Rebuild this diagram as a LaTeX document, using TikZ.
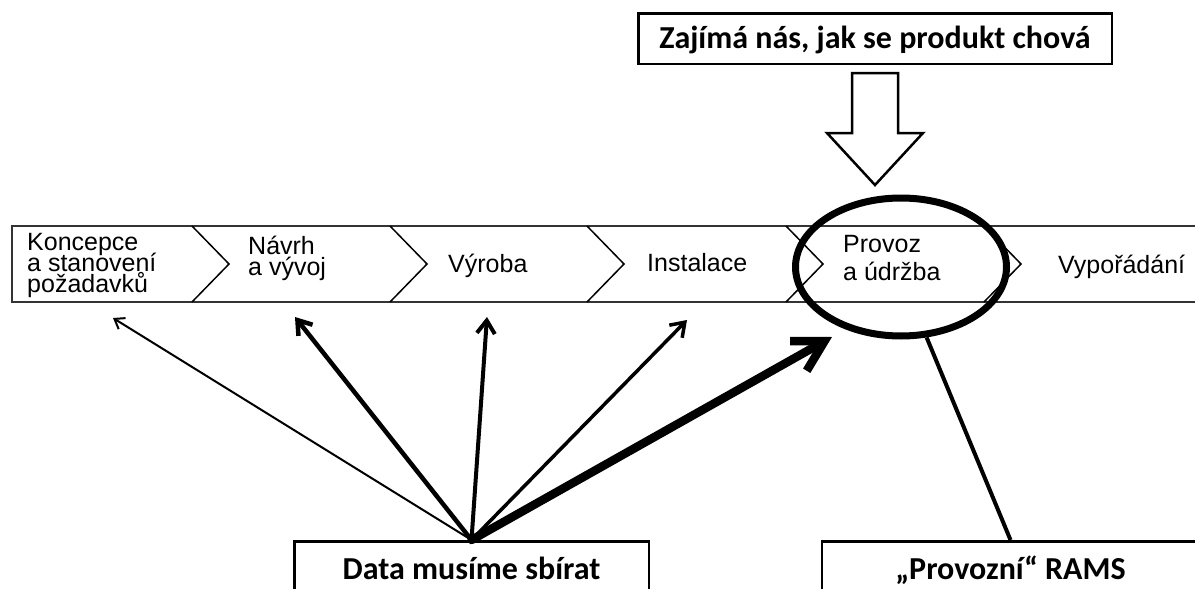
\documentclass[tikz,border=0pt]{standalone}
\usepackage{fontspec}
\newfontfamily\stagefont{Liberation Sans}
\newfontfamily\notefont{Carlito}
\usetikzlibrary{shapes.geometric,arrows.meta,positioning,calc}
\setlength{\lineskiplimit}{-20pt}

\tikzset{
  stage/.style={inner sep=0pt, align=left,
    font=\stagefont\fontsize{25}{21}\selectfont},
  chev/.style={line width=1.5pt, line join=miter},
  note/.style={draw, line width=2.5pt, inner sep=0pt,
    text height=20.6pt, text depth=0pt,
    font=\notefont\bfseries\fontsize{32}{36}\selectfont},
  feed/.style={line cap=round, line join=round},
  hollow/.style={line width=2.5pt, line join=miter},
}

\begin{document}
\begin{tikzpicture}[x=1pt, y=-1pt]
  \useasboundingbox (0,0) rectangle (1195,589);

  % proces
  \draw[line width=2pt, draw=black!80] (12,226) rectangle (1200,302);
  \foreach \x in {192,390,587,786,984}
    \draw[chev] (\x,226) -- (\x+37,264) -- (\x,302);

  % etapy
  \node[stage, anchor=west] (concept) at (27,265.5) {Koncepce\\a stanovení\\požadavků};
  \node[stage, anchor=west] (design) at (248,258) {Návrh\\a vývoj};
  \node[stage, anchor=base west] (make) at (448,272) {Výroba};
  \node[stage, anchor=base west] (install) at (647,271) {Instalace};
  \node[stage, anchor=west] (operate) at (843,258) {Provoz\\[7pt]a údržba};
  \node[stage, anchor=base west] (dispose) at (1058,273) {Vypořádání};

  % provoz zvyrazneni
  \node[draw, ellipse, line width=7pt, minimum width=211pt, minimum height=138pt,
    inner sep=0pt] (focus) at (901,267) {};

  % popisky
  \node[note, minimum width=473.5pt, minimum height=50.5pt] (care) at (875,38.5)
    {Zajímá nás, jak se produkt chová};
  \node[note, minimum width=354.5pt, minimum height=56.5pt] (collect) at (471.5,569.5)
    {Data musíme sbírat};
  \node[note, minimum width=377pt, minimum height=56.5pt] (rams) at (1010.5,569.5)
    {„Provozní“ RAMS};

  % dutá šipka
  \draw[hollow] ($(care.south)+(-23,8)$) -- ++(46,0) -- ++(0,60) -- ++(25,0)
    -- ++(-48,52) -- ++(-48,-52) -- ++(25,0) -- cycle;

  % sběr dat
  \coordinate (t1) at (113,318);
  \coordinate (t2) at (295,317);
  \coordinate (t3) at (487,317);
  \coordinate (t4) at (687,320);
  \coordinate (t5) at (832,337);
  \draw[feed, line width=2pt, -{Straight Barb[length=9pt,width=13pt]}] (collect.north) -- (t1);
  \draw[feed, line width=4.5pt, -{Straight Barb[length=13pt,width=18pt]}] (collect.north) -- (t2);
  \draw[feed, line width=4pt, -{Straight Barb[length=13pt,width=18pt]}] (collect.north) -- (t3);
  \draw[feed, line width=3.5pt, -{Straight Barb[length=13pt,width=18pt]}] (collect.north) -- (t4);
  \draw[feed, line width=8.5pt, -{Straight Barb[length=30pt,width=34pt]}] (collect.north) -- (t5);

  % RAMS
  \draw[line width=4pt] (focus.-70) -- (rams.north);
\end{tikzpicture}
\end{document}
